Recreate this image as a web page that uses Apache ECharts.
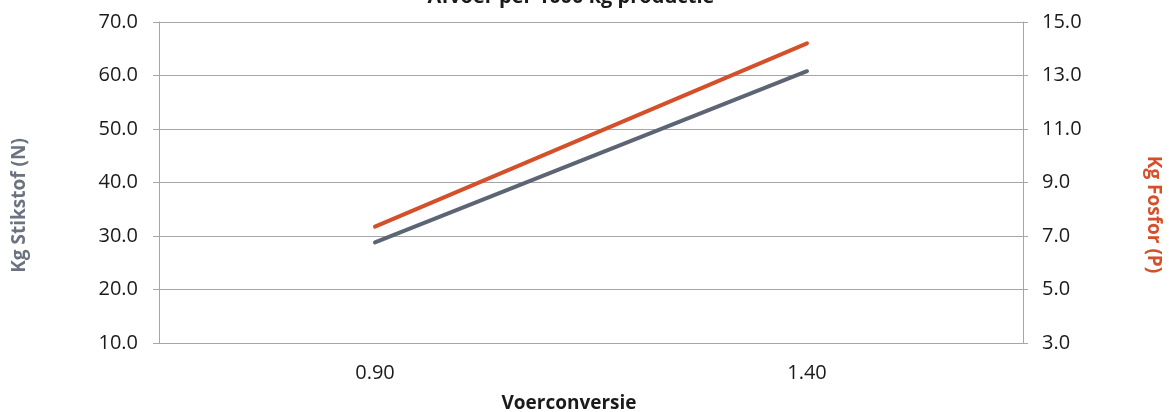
<!DOCTYPE html>
<html>
<head>
<meta charset="utf-8">
<script src="https://cdn.jsdelivr.net/npm/echarts@6/dist/echarts.min.js"></script>
<style>
  html, body { margin: 0; padding: 0; background: #fff; }
  #chart { width: 1171px; height: 412px; }
</style>
</head>
<body>
<div id="chart"></div>
<script>
const categories = ['0.90', '1.40']
const stikstof = [28.8, 60.8]
const fosfor = [7.35, 14.2]

const gridColor = '#a6a6a6'
const greyLine = '#5d6575'
const orangeLine = '#d4502a'

let myChart = echarts.init(document.getElementById('chart'))
myChart.setOption({
    textStyle: { fontFamily: 'Open Sans' },
    title: {
        text: 'Afvoer per 1000 kg productie',
        left: 566,
        textAlign: 'center',
        top: -18,
        textStyle: { fontSize: 20, fontWeight: 'bold', color: '#1a1a1a', fontFamily: 'Open Sans' }
    },
    grid: { left: 159, right: 148, top: 22, bottom: 69, outerBoundsMode: 'none' },
    xAxis: {
        type: 'category',
        data: categories,
        name: 'Voerconversie',
        nameLocation: 'middle',
        nameGap: 51,
        nameTextStyle: { fontSize: 19, fontWeight: 'bold', color: '#1a1a1a', padding: [0, 44, 0, 0] },
        axisLine: { lineStyle: { color: gridColor } },
        axisTick: { show: false },
        axisLabel: { fontSize: 20, color: '#1a1a1a', margin: 20 }
    },
    yAxis: [
        {
            type: 'value',
            min: 10,
            max: 70,
            interval: 10,
            name: 'Kg Stikstof (N)',
            nameLocation: 'middle',
            nameGap: 130,
            nameTextStyle: { fontSize: 19, fontWeight: 'bold', color: '#6b7280', padding: [0, 46, 0, 0] },
            axisLine: { show: true, lineStyle: { color: gridColor } },
            axisTick: { show: true, length: 6, lineStyle: { color: gridColor } },
            axisLabel: { fontSize: 20, color: '#1a1a1a', margin: 21, formatter: v => v.toFixed(1) },
            splitLine: { lineStyle: { color: gridColor } }
        },
        {
            type: 'value',
            min: 3,
            max: 15,
            interval: 2,
            name: 'Kg Fosfor (P)',
            nameLocation: 'middle',
            nameRotate: -90,
            nameGap: 121,
            nameTextStyle: { fontSize: 19, fontWeight: 'bold', color: '#d4502a', padding: [0, 0, 0, 64] },
            axisLine: { show: true, lineStyle: { color: gridColor } },
            axisTick: { show: true, length: 5, lineStyle: { color: gridColor } },
            axisLabel: { fontSize: 20, color: '#1a1a1a', margin: 19, formatter: v => v.toFixed(1) },
            splitLine: { show: false }
        }
    ],
    series: [
        {
            name: 'Kg Stikstof (N)',
            type: 'line',
            yAxisIndex: 0,
            data: stikstof,
            symbol: 'none',
            lineStyle: { color: greyLine, width: 4, cap: 'round' }
        },
        {
            name: 'Kg Fosfor (P)',
            type: 'line',
            yAxisIndex: 1,
            data: fosfor,
            symbol: 'none',
            lineStyle: { color: orangeLine, width: 4, cap: 'round' }
        }
    ]
})
window.addEventListener('resize', function () {
    myChart.resize()
})
</script>
</body>
</html>
